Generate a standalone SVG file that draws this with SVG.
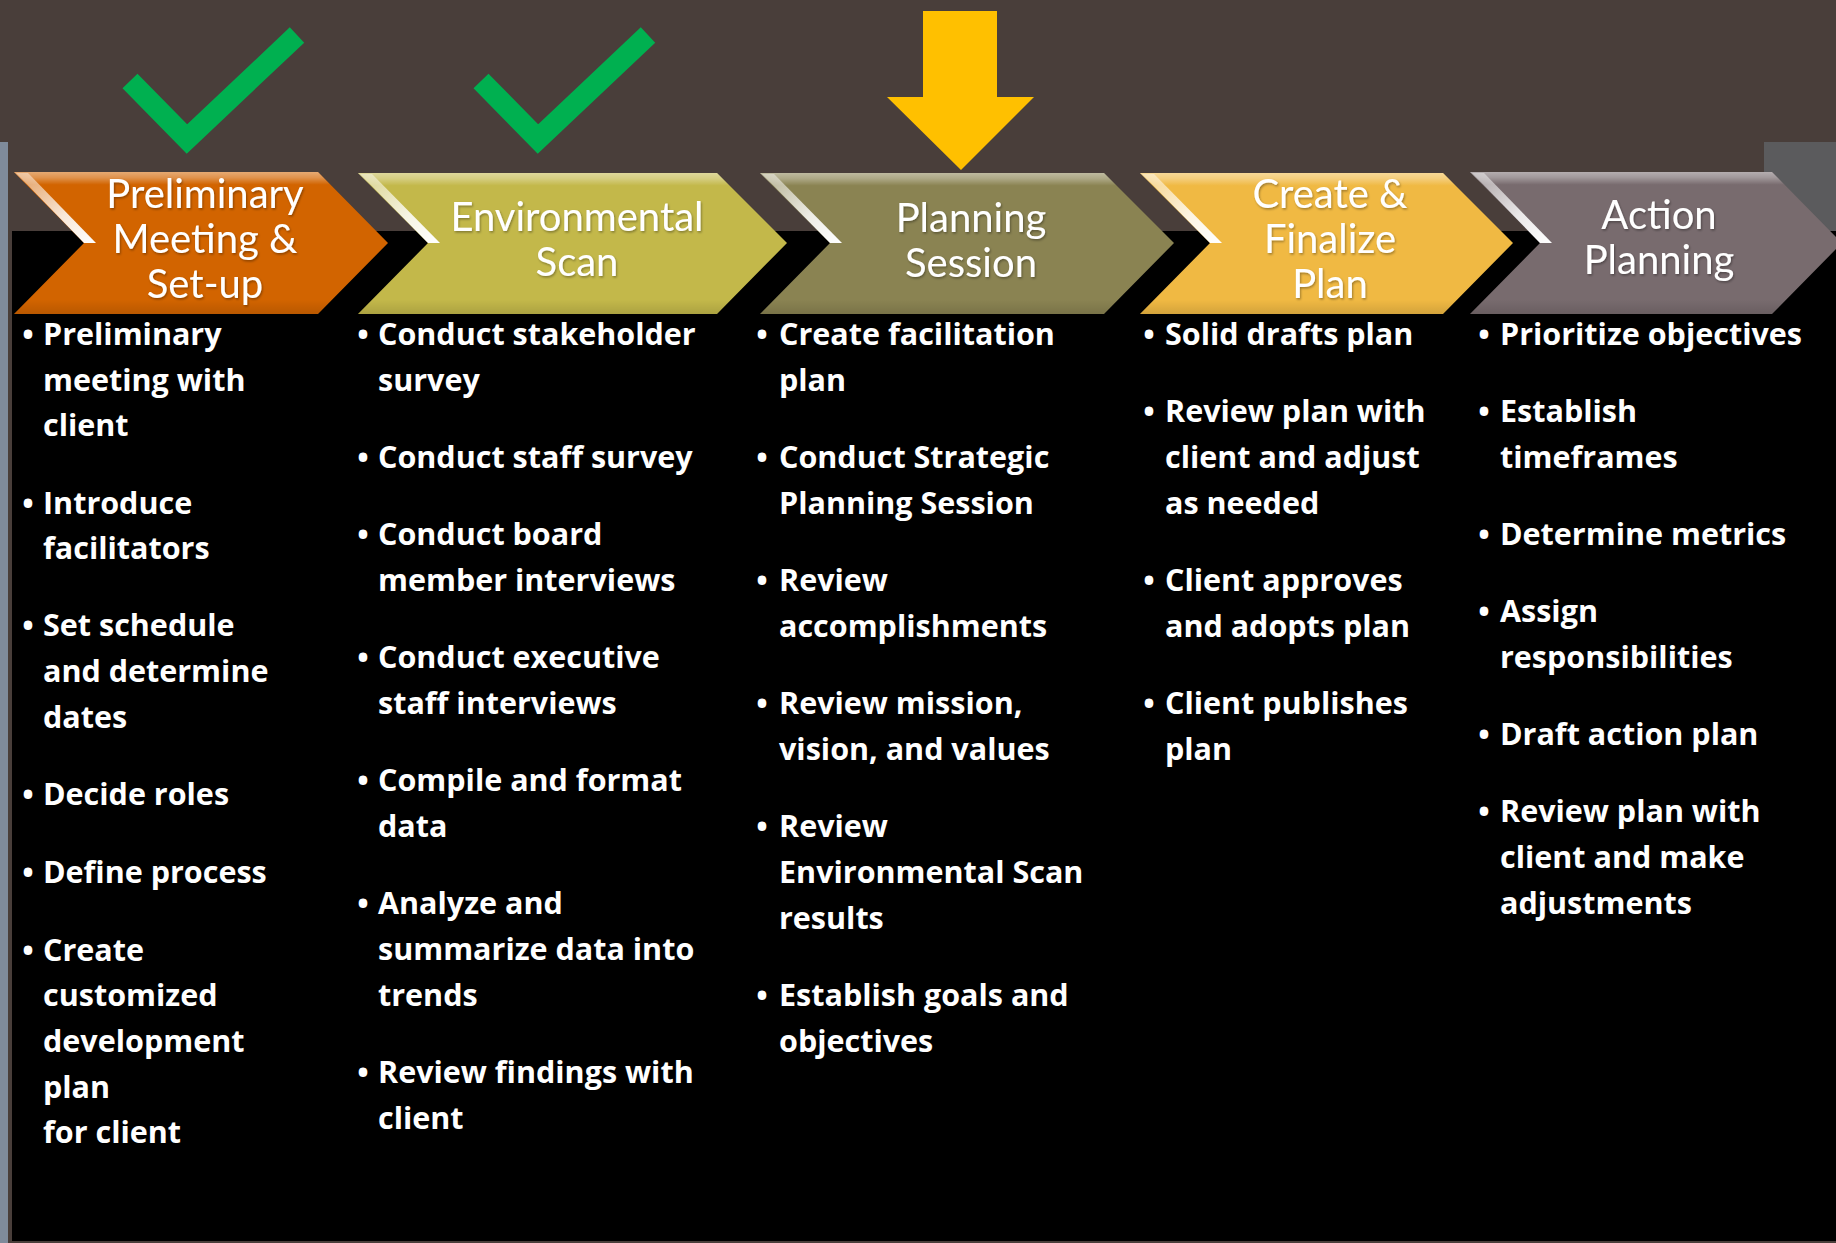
<svg xmlns="http://www.w3.org/2000/svg" width="1836" height="1243" viewBox="0 0 1836 1243">
<defs>
<linearGradient id="topBand" x1="0" y1="0" x2="0" y2="1">
<stop offset="0" stop-color="#ffffff" stop-opacity="0.45"/>
<stop offset="0.04" stop-color="#ffffff" stop-opacity="0.30"/>
<stop offset="0.09" stop-color="#ffffff" stop-opacity="0.0"/>
<stop offset="0.9" stop-color="#000000" stop-opacity="0.0"/>
<stop offset="1" stop-color="#000000" stop-opacity="0.12"/>
</linearGradient>
<linearGradient id="bevel" x1="0" y1="0" x2="1" y2="1">
<stop offset="0" stop-color="#ffffff" stop-opacity="0.35"/>
<stop offset="0.6" stop-color="#ffffff" stop-opacity="0.85"/>
<stop offset="1" stop-color="#ffffff" stop-opacity="1"/>
</linearGradient>
<filter id="tshadow" x="-10%" y="-10%" width="120%" height="130%">
<feDropShadow dx="1" dy="1.5" stdDeviation="1" flood-color="#000" flood-opacity="0.35"/>
</filter>
</defs>
<style>
.title{font-family:Lato,"Open Sans","Liberation Sans",sans-serif;font-size:40px;fill:#ffffff;text-anchor:middle;}
.body{font-family:"Open Sans","Noto Sans","Liberation Sans",sans-serif;font-size:30.5px;font-weight:bold;fill:#ffffff;}
.bul{font-family:"Open Sans","Noto Sans","Liberation Sans",sans-serif;font-size:30.5px;font-weight:bold;fill:#ffffff;text-anchor:middle;}
.band{fill:url(#topBand);}
.bev{fill:url(#bevel);}
.check{fill:none;stroke:#00b050;stroke-width:21;stroke-linejoin:miter;stroke-linecap:butt;}
</style>
<rect x="0" y="0" width="1836" height="1243" fill="#493e3a"/>
<rect x="0" y="142" width="8" height="1101" fill="#7f8b9b"/>
<rect x="1764" y="142" width="72" height="90" fill="#5b5b5d"/>
<rect x="12" y="231" width="1824" height="1010" fill="#000000"/>

<g id="checkmark-1"><polyline class="check" points="130,81 187,139 297,35"/></g>
<g id="checkmark-2"><polyline class="check" points="481,81 538,139 648,35"/></g>
<g id="current-arrow"><polygon fill="#ffc000" points="923,11 997,11 997,97 1034,97 961,170 887,97 923,97"/></g>

<g id="connectors"></g>

<g id="stage-1">
<polygon fill="#d26400" points="14,172 318,172 388,243 318,314 14,314 84,243"/>
<polygon class="band" points="14,172 318,172 388,243 318,314 14,314 84,243"/>
<polygon class="bev" points="16,173 28,173 96,243 84,243"/>
<g class="title" filter="url(#tshadow)">
<text x="205" y="208">Preliminary</text>
<text x="205" y="253">Meeting &amp;</text>
<text x="205" y="298">Set-up</text>
</g>
<g class="bul"><text x="28" y="345">•</text><text x="28" y="514">•</text><text x="28" y="636">•</text><text x="28" y="805">•</text><text x="28" y="883">•</text><text x="28" y="961">•</text></g>
<g class="body">
<text x="43" y="345">Preliminary</text>
<text x="43" y="391">meeting with</text>
<text x="43" y="436">client</text>
<text x="43" y="514">Introduce</text>
<text x="43" y="559">facilitators</text>
<text x="43" y="636">Set schedule</text>
<text x="43" y="682">and determine</text>
<text x="43" y="728">dates</text>
<text x="43" y="805">Decide roles</text>
<text x="43" y="883">Define process</text>
<text x="43" y="961">Create</text>
<text x="43" y="1006">customized</text>
<text x="43" y="1052">development</text>
<text x="43" y="1098">plan</text>
<text x="43" y="1143">for client</text>
</g>
</g>

<g id="stage-2">
<polygon fill="#c3b84a" points="358,173 717,173 787,243 717,314 358,314 428,243"/>
<polygon class="band" points="358,173 717,173 787,243 717,314 358,314 428,243"/>
<polygon class="bev" points="360,174 372,174 440,243 428,243"/>
<g class="title" filter="url(#tshadow)">
<text x="577" y="231">Environmental</text>
<text x="577" y="276">Scan</text>
</g>
<g class="bul"><text x="363" y="345">•</text><text x="363" y="468">•</text><text x="363" y="545">•</text><text x="363" y="668">•</text><text x="363" y="791">•</text><text x="363" y="914">•</text><text x="363" y="1083">•</text></g>
<g class="body">
<text x="378" y="345">Conduct stakeholder</text>
<text x="378" y="391">survey</text>
<text x="378" y="468">Conduct staff survey</text>
<text x="378" y="545">Conduct board</text>
<text x="378" y="591">member interviews</text>
<text x="378" y="668">Conduct executive</text>
<text x="378" y="714">staff interviews</text>
<text x="378" y="791">Compile and format</text>
<text x="378" y="837">data</text>
<text x="378" y="914">Analyze and</text>
<text x="378" y="960">summarize data into</text>
<text x="378" y="1006">trends</text>
<text x="378" y="1083">Review findings with</text>
<text x="378" y="1129">client</text>
</g>
</g>

<g id="stage-3">
<polygon fill="#8a8352" points="760,173 1104,173 1174,243 1104,314 760,314 830,243"/>
<polygon class="band" points="760,173 1104,173 1174,243 1104,314 760,314 830,243"/>
<polygon class="bev" points="762,174 774,174 842,243 830,243"/>
<g class="title" filter="url(#tshadow)">
<text x="971" y="232">Planning</text>
<text x="971" y="277">Session</text>
</g>
<g class="bul"><text x="762" y="345">•</text><text x="762" y="468">•</text><text x="762" y="591">•</text><text x="762" y="714">•</text><text x="762" y="837">•</text><text x="762" y="1006">•</text></g>
<g class="body">
<text x="779" y="345">Create facilitation</text>
<text x="779" y="391">plan</text>
<text x="779" y="468">Conduct Strategic</text>
<text x="779" y="514">Planning Session</text>
<text x="779" y="591">Review</text>
<text x="779" y="637">accomplishments</text>
<text x="779" y="714">Review mission,</text>
<text x="779" y="760">vision, and values</text>
<text x="779" y="837">Review</text>
<text x="779" y="883">Environmental Scan</text>
<text x="779" y="929">results</text>
<text x="779" y="1006">Establish goals and</text>
<text x="779" y="1052">objectives</text>
</g>
</g>

<g id="stage-4">
<polygon fill="#f0b943" points="1140,173 1443,173 1513,243 1443,314 1140,314 1210,243"/>
<polygon class="band" points="1140,173 1443,173 1513,243 1443,314 1140,314 1210,243"/>
<polygon class="bev" points="1142,174 1154,174 1222,243 1210,243"/>
<g class="title" filter="url(#tshadow)">
<text x="1330" y="208">Create &amp;</text>
<text x="1330" y="253">Finalize</text>
<text x="1330" y="298">Plan</text>
</g>
<g class="bul"><text x="1149" y="345">•</text><text x="1149" y="422">•</text><text x="1149" y="591">•</text><text x="1149" y="714">•</text></g>
<g class="body">
<text x="1165" y="345">Solid drafts plan</text>
<text x="1165" y="422">Review plan with</text>
<text x="1165" y="468">client and adjust</text>
<text x="1165" y="514">as needed</text>
<text x="1165" y="591">Client approves</text>
<text x="1165" y="637">and adopts plan</text>
<text x="1165" y="714">Client publishes</text>
<text x="1165" y="760">plan</text>
</g>
</g>

<g id="stage-5">
<polygon fill="#786b6e" points="1470,172 1772,172 1842,243 1772,314 1470,314 1540,243"/>
<polygon class="band" points="1470,172 1772,172 1842,243 1772,314 1470,314 1540,243"/>
<polygon class="bev" points="1472,173 1484,173 1552,243 1540,243"/>
<g class="title" filter="url(#tshadow)">
<text x="1659" y="229">Action</text>
<text x="1659" y="274">Planning</text>
</g>
<g class="bul"><text x="1484" y="345">•</text><text x="1484" y="422">•</text><text x="1484" y="545">•</text><text x="1484" y="622">•</text><text x="1484" y="745">•</text><text x="1484" y="822">•</text></g>
<g class="body">
<text x="1500" y="345">Prioritize objectives</text>
<text x="1500" y="422">Establish</text>
<text x="1500" y="468">timeframes</text>
<text x="1500" y="545">Determine metrics</text>
<text x="1500" y="622">Assign</text>
<text x="1500" y="668">responsibilities</text>
<text x="1500" y="745">Draft action plan</text>
<text x="1500" y="822">Review plan with</text>
<text x="1500" y="868">client and make</text>
<text x="1500" y="914">adjustments</text>
</g>
</g>
</svg>
